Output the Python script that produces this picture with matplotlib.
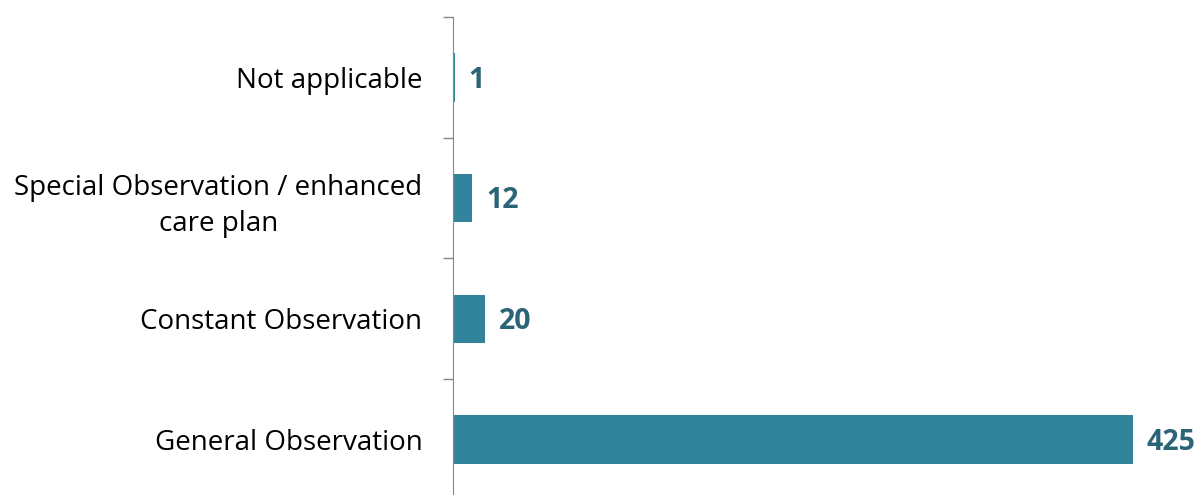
import matplotlib.pyplot as plt
import numpy as np

categories = ['General Observation', 'Constant Observation',
              'Special Observation / enhanced\ncare plan', 'Not applicable']
counts = [425, 20, 12, 1]

bar_color = '#31849b'
label_color = '#2b6476'

plt.rcParams['font.family'] = ['Open Sans', 'DejaVu Sans']

fig = plt.figure(figsize=(12.03, 4.95), dpi=100)
ax = fig.add_axes([0.3766, -0.0101, 0.6234, 0.9758])

y = np.arange(len(categories))
ax.barh(y, counts, height=0.4, color=bar_color)

# value labels just right of each bar
for yi, v in zip(y, counts):
    ax.annotate(str(v), (v, yi), xytext=(10, -2), textcoords='offset points',
                va='center', ha='left', fontsize=20.5, fontweight='bold',
                color=label_color)

ax.set_xlim(0, 468.75)
ax.set_ylim(-0.5, len(categories) - 0.5)
ax.set_yticks(y)
ax.set_yticklabels(categories, fontsize=20, linespacing=1.4)
ax.set_yticks(np.arange(-0.5, len(categories), 1), minor=True)
ax.tick_params(axis='y', which='major', length=0, pad=22)
ax.tick_params(axis='y', which='minor', length=7, color='#888888', width=1)
for lbl in ax.get_yticklabels():
    lbl.set_horizontalalignment('right')
    lbl.set_multialignment('center')

ax.set_xticks([])
for s in ['top', 'right', 'bottom']:
    ax.spines[s].set_visible(False)
ax.spines['left'].set_color('#888888')

fig.savefig('out.png', dpi=100)
